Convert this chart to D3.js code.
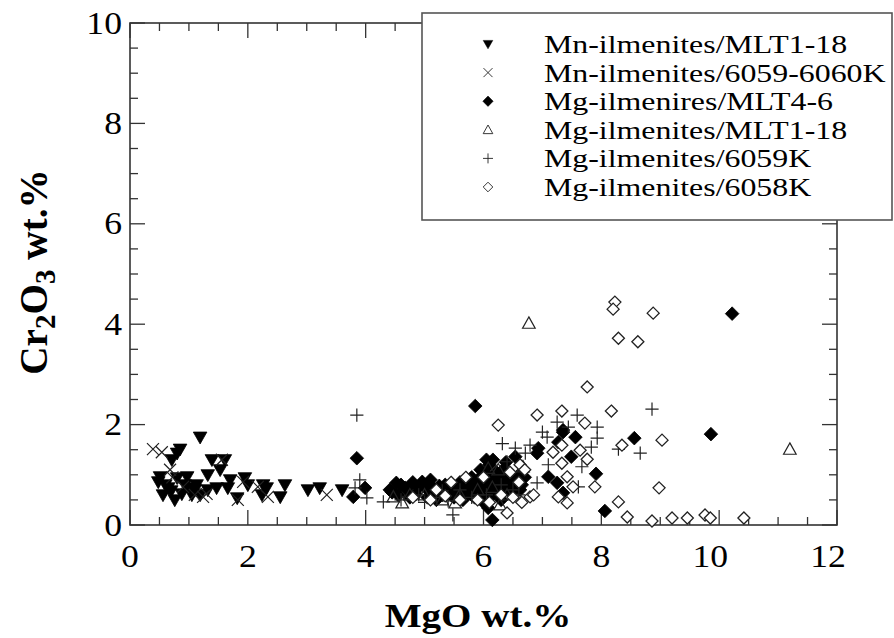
<!DOCTYPE html>
<html>
<head>
<meta charset="utf-8">
<script src="https://cdn.jsdelivr.net/npm/d3@7/dist/d3.min.js"></script>
<style>
  html, body { margin: 0; padding: 0; background: #fff; }
  svg text { font-family: "Liberation Serif", "Times New Roman", serif; fill: #000; }
</style>
</head>
<body>
<svg id="chart" width="894" height="638"></svg>
<script>
// ---------- data ----------
const seriesNames = [
  "Mn-ilmenites/MLT1-18",
  "Mn-ilmenites/6059-6060K",
  "Mg-ilmenires/MLT4-6",
  "Mg-ilmenites/MLT1-18",
  "Mg-ilmenites/6059K",
  "Mg-ilmenites/6058K"
];
const xTicks = [0, 2, 4, 6, 8, 10, 12];
const yTicks = [0, 2, 4, 6, 8, 10];

// Mn-ilmenites/MLT1-18 (filled down triangles)
const mnMLT = [
  [1.19,1.75],[0.85,1.51],[0.80,1.43],[0.71,1.30],[1.39,1.30],[1.61,1.30],[1.53,1.10],
  [1.32,1.00],[0.51,0.96],[0.48,0.86],[0.80,0.94],[0.97,0.96],[0.93,0.80],[1.02,0.74],
  [1.13,0.80],[0.65,0.74],[0.56,0.60],[0.76,0.50],[1.05,0.60],[1.19,0.60],[1.32,0.70],
  [1.47,0.74],[1.66,0.74],[1.95,0.94],[2.00,0.80],[1.82,0.54],[2.26,0.80],[2.24,0.60],
  [2.32,0.74],[2.55,0.56],[2.63,0.80],[3.02,0.70],[3.22,0.74],[3.60,0.70],[0.60,0.80],
  [0.88,0.62],[1.10,0.70],[1.70,0.90],[0.70,0.68]
];
// Mn-ilmenites/6059-6060K (x marks)
const mn6059 = [
  [0.39,1.51],[0.54,1.45],[0.68,1.10],[0.90,0.76],[1.10,0.60],[1.24,0.56],[1.56,1.30],
  [1.83,0.50],[1.92,0.86],[2.17,0.76],[2.34,0.56],[3.34,0.60],[0.72,0.95],[1.30,0.62]
];
// Mg-ilmenires/MLT4-6 (filled diamonds)
const mgMLT46 = [
  [3.85,1.33],[3.99,0.74],[3.79,0.56],[4.41,0.70],[4.52,0.84],[4.67,0.74],[4.96,0.86],
  [5.13,0.76],[5.86,2.37],[6.16,1.30],[6.54,1.36],[6.15,0.10],[6.08,0.34],[6.91,1.43],
  [6.93,1.53],[7.27,1.65],[7.35,1.89],[7.10,0.96],[7.25,0.84],[7.35,0.64],[7.56,1.75],
  [7.35,1.85],[7.49,1.36],[7.91,1.02],[8.06,0.28],[8.56,1.73],[10.22,4.21],[9.86,1.81],
  [4.55,0.60],[4.70,0.72],[4.85,0.62],[5.00,0.80],[5.05,0.55],[5.15,0.65],[5.25,0.78],
  [5.30,0.60],[5.40,0.70],[5.50,0.55],[5.55,0.75],[5.60,0.62],[5.70,0.70],[5.75,0.85],
  [5.80,0.60],[5.85,0.75],[5.90,0.90],[5.95,0.65],[6.00,0.80],[6.05,1.00],[6.08,0.70],
  [6.10,1.20],[6.12,0.90],[6.15,0.60],[6.20,0.85],[6.22,1.05],[6.25,0.75],[6.30,0.95],
  [6.35,0.70],[6.40,0.85],[6.45,0.65],[6.50,0.90],[6.55,0.75],[6.60,1.00],[6.65,0.80],
  [5.95,1.10],[6.00,0.55],[5.65,0.50],[5.20,0.50],[4.90,0.75],[6.00,0.45],[6.30,0.50],
  [4.45,0.65],[4.60,0.80],[4.75,0.55],[4.80,0.85],[5.05,0.70],[5.10,0.90],[5.35,0.80],
  [5.45,0.60],[5.60,0.85],[5.65,0.72],[5.80,0.95],[5.85,0.55],[5.90,0.78],[6.02,0.68],
  [6.18,0.95],[6.27,0.62],[6.33,1.10],[6.42,0.95],[6.48,0.80],[6.58,0.90],[6.62,0.70],
  [6.70,0.95],[6.05,1.30],[6.38,1.25],[6.20,0.72],[5.75,0.65],[5.50,0.70]
];
// Mg-ilmenites/MLT1-18 (open up triangles)
const mgMLT118 = [
  [6.77,4.02],[11.20,1.51],[4.62,0.44],[6.28,0.40],[6.67,1.16],[4.47,0.56],[5.52,0.44],
  [6.25,1.10],[6.08,1.13],[4.75,0.60],[5.00,0.60],[5.30,0.50],[5.60,0.60],[5.90,0.70],
  [6.15,0.75],[6.40,0.60]
];
// Mg-ilmenites/6059K (plus)
const mg6059 = [
  [3.85,2.19],[3.90,0.90],[3.82,0.74],[4.02,0.54],[4.30,0.46],[5.48,0.20],[6.32,1.62],
  [6.54,1.53],[7.00,1.85],[6.79,1.59],[7.08,1.75],[7.25,2.05],[7.10,1.20],[6.91,0.84],
  [6.40,1.26],[6.71,1.43],[7.59,2.19],[7.44,1.95],[7.93,1.95],[7.93,1.73],[7.83,1.55],
  [8.29,1.51],[8.66,1.43],[8.86,2.31],[7.67,1.16],[7.61,0.76],[4.60,0.50],[4.90,0.60],
  [5.20,0.55],[5.40,0.48],[5.60,0.70],[5.80,0.55],[6.05,0.60],[6.30,0.80],[6.50,0.70],
  [6.60,0.60],[5.00,0.45],[5.30,0.68]
];
// Mg-ilmenites/6058K (open diamonds)
const mg6058 = [
  [8.23,4.44],[8.20,4.30],[8.88,4.22],[8.29,3.72],[8.62,3.65],[7.76,2.75],[8.17,2.27],
  [7.33,2.27],[6.91,2.19],[7.72,2.03],[6.25,1.99],[8.35,1.59],[9.03,1.69],[7.76,1.31],
  [7.64,1.49],[7.89,0.76],[8.98,0.74],[8.29,0.46],[8.44,0.16],[8.86,0.08],[9.20,0.14],
  [7.42,0.44],[7.52,0.76],[7.42,0.96],[7.33,1.23],[7.33,1.59],[9.46,0.14],[9.76,0.20],
  [9.85,0.14],[10.42,0.14],[6.79,0.56],[6.40,0.24],[7.27,0.56],[7.18,1.45],[6.62,1.20],
  [4.80,0.55],[5.10,0.50],[5.35,0.58],[5.60,0.50],[5.90,0.50],[6.10,0.45],[6.30,0.60],
  [6.50,0.55],[6.60,0.85],[6.70,1.10],[6.85,0.60],[5.45,0.85],[5.70,0.95],[6.00,0.95],
  [6.45,1.05],[6.65,0.45],[5.20,0.70]
];

// ---------- layout ----------
const svg = d3.select("#chart");
const L = 130, R = 837, T = 23, B = 525;
const x = d3.scaleLinear().domain([0, 12]).range([L, R]);
const y = d3.scaleLinear().domain([0, 10]).range([B, T]);
const axisColor = "#333";
const stretch = 1.15;   // horizontal stretch of the glyphs in the reference

function markerPath(type, s) {
  switch (type) {
    case "tridown": return `M${-s},${-0.75*s}L${s},${-0.75*s}L0,${s}Z`;
    case "triup":   return `M0,${-s}L${s},${0.8*s}L${-s},${0.8*s}Z`;
    case "diamond": return `M0,${-s}L${s},0L0,${s}L${-s},0Z`;
    case "plus":    return `M${-s},0L${s},0M0,${-s}L0,${s}`;
    case "cross":   return `M${-s},${-s}L${s},${s}M${-s},${s}L${s},${-s}`;
  }
}
const styles = [
  {data: mnMLT,   type: "tridown", size: 6.8, fill: "#000", stroke: "#000", sw: 0.8, ls: 4.8},
  {data: mn6059,  type: "cross",   size: 6.0, fill: "none", stroke: "#222", sw: 1.2, ls: 4.5},
  {data: mgMLT46, type: "diamond", size: 6.8, fill: "#000", stroke: "#000", sw: 0.8, ls: 5.2},
  {data: mgMLT118,type: "triup",   size: 6.3, fill: "none", stroke: "#222", sw: 1.2, ls: 4.8},
  {data: mg6059,  type: "plus",    size: 6.6, fill: "none", stroke: "#222", sw: 1.2, ls: 5},
  {data: mg6058,  type: "diamond", size: 6.0, fill: "#fff", stroke: "#222", sw: 1.3, ls: 4.8}
];

// ---------- axes (ticks inward on all 4 sides) ----------
const minorX = d3.range(0, 12.01, 0.5);
const minorY = d3.range(0, 10.01, 0.5);
const g = svg.append("g");
function isMajor(v) { return Math.abs(v/2 - Math.round(v/2)) < 1e-6; }
g.selectAll("line.xb").data(minorX).join("line")
  .attr("x1", d => x(d)).attr("x2", d => x(d))
  .attr("y1", B).attr("y2", d => B - (isMajor(d) ? 15 : 8))
  .attr("stroke", axisColor).attr("stroke-width", 1.3);
g.selectAll("line.xt").data(minorX).join("line")
  .attr("x1", d => x(d)).attr("x2", d => x(d))
  .attr("y1", T).attr("y2", d => T + (isMajor(d) ? 15 : 8))
  .attr("stroke", axisColor).attr("stroke-width", 1.3);
g.selectAll("line.yl").data(minorY).join("line")
  .attr("y1", d => y(d)).attr("y2", d => y(d))
  .attr("x1", L).attr("x2", d => L + (isMajor(d) ? 15 : 8))
  .attr("stroke", axisColor).attr("stroke-width", 1.3);
g.selectAll("line.yr").data(minorY).join("line")
  .attr("y1", d => y(d)).attr("y2", d => y(d))
  .attr("x1", R).attr("x2", d => R - (isMajor(d) ? 15 : 8))
  .attr("stroke", axisColor).attr("stroke-width", 1.3);
g.append("rect").attr("x", L).attr("y", T).attr("width", R - L).attr("height", B - T)
  .attr("fill", "none").attr("stroke", axisColor).attr("stroke-width", 1.6);

// tick labels (right-aligned half a digit past the tick, as in the reference)
const tickFont = 31;
const halfDigit = 0.25 * tickFont * stretch;
g.selectAll("text.xl").data(xTicks).join("text")
  .attr("transform", d => `translate(${x(d) + halfDigit},567) scale(${stretch},1)`)
  .attr("text-anchor", "end").attr("font-size", tickFont).text(d => d);
g.selectAll("text.yl").data(yTicks).join("text")
  .attr("transform", d => `translate(122,${y(d) + 10.5}) scale(${stretch},1)`)
  .attr("text-anchor", "end").attr("font-size", tickFont).text(d => d);

// axis titles
svg.append("text").attr("transform", `translate(478,627) scale(${stretch},1)`)
  .attr("text-anchor", "middle")
  .attr("font-size", 34).attr("font-weight", "bold").text("MgO wt.%");
const yt = svg.append("text")
  .attr("transform", `translate(47,272) rotate(-90) scale(1.12,${stretch})`)
  .attr("text-anchor", "middle").attr("font-size", 35).attr("font-weight", "bold");
yt.append("tspan").text("Cr");
yt.append("tspan").attr("font-size", 26).attr("dy", 7).text("2");
yt.append("tspan").attr("dy", -7).text("O");
yt.append("tspan").attr("font-size", 26).attr("dy", 7).text("3");
yt.append("tspan").attr("dy", -7).text(" wt.%");

// ---------- points ----------
const plot = svg.append("g");
styles.forEach(st => {
  plot.append("g").selectAll("path").data(st.data).join("path")
    .attr("transform", d => `translate(${x(d[0])},${y(d[1])})`)
    .attr("d", markerPath(st.type, st.size))
    .attr("fill", st.fill).attr("stroke", st.stroke).attr("stroke-width", st.sw);
});

// ---------- legend ----------
const lg = svg.append("g");
lg.append("rect").attr("x", 422).attr("y", 13).attr("width", 470).attr("height", 207)
  .attr("fill", "#fff").attr("stroke", "#555").attr("stroke-width", 1.6);
const rowY = d3.scaleLinear().domain([0, 5]).range([44, 187]);
const legendFont = 25.6;
seriesNames.forEach((name, i) => {
  const st = styles[i];
  lg.append("path").attr("transform", `translate(488,${rowY(i)})`)
    .attr("d", markerPath(st.type, st.ls))
    .attr("fill", st.fill).attr("stroke", st.stroke)
    .attr("stroke-width", st.fill === "none" || st.fill === "#fff" ? 0.9 : 0.5);
  lg.append("text").attr("transform", `translate(544,${rowY(i) + 9}) scale(1.245,1)`)
    .attr("font-size", legendFont).text(name);
});
</script>
</body>
</html>
